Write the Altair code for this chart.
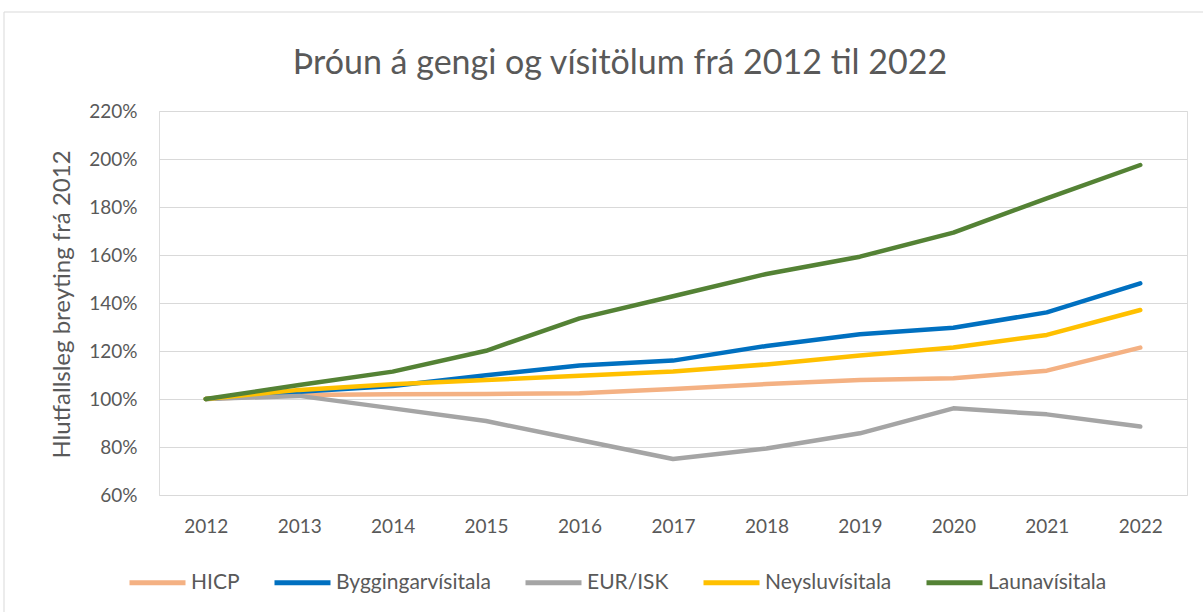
import altair as alt
import pandas as pd

years = ["2012", "2013", "2014", "2015", "2016", "2017", "2018", "2019", "2020", "2021", "2022"]
series_names = ["HICP", "Byggingarvísitala", "EUR/ISK", "Neysluvísitala", "Launavísitala"]
series_colors = ["#F4B183", "#0070C0", "#A5A5A5", "#FFC000", "#548235"]

hicp = [100, 101.7, 102.0, 102.1, 102.4, 104.2, 106.2, 107.9, 108.6, 111.8, 121.4]
bygg = [100, 103.0, 105.4, 109.9, 114.0, 116.0, 122.1, 127.0, 129.7, 136.1, 148.2]
eur_isk = [100, 101.3, 96.1, 90.8, 82.9, 75.0, 79.4, 85.7, 96.1, 93.6, 88.5]
neys = [100, 103.8, 106.1, 107.9, 109.7, 111.5, 114.4, 118.1, 121.5, 126.7, 137.1]
laun = [100, 105.8, 111.4, 120.1, 133.6, 142.8, 152.1, 159.3, 169.3, 183.6, 197.5]

y_ticks = [0.6, 0.8, 1.0, 1.2, 1.4, 1.6, 1.8, 2.0, 2.2]

rows = []
for name, vals in zip(series_names, [hicp, bygg, eur_isk, neys, laun]):
    for yr, v in zip(years, vals):
        rows.append({"year": yr, "series": name, "value": v / 100.0})
df = pd.DataFrame(rows)

FONT = "Lato"
TXT = "#595959"

lines = alt.Chart(df).mark_line(strokeWidth=4.5, strokeCap="round", strokeJoin="round").encode(
    x=alt.X("year:O", sort=years,
            scale=alt.Scale(type="point", padding=0.5),
            axis=alt.Axis(title=None, labelAngle=0, ticks=False, domain=False, grid=False,
                          labelPadding=22, labelFontSize=19, labelColor=TXT, labelFont=FONT)),
    y=alt.Y("value:Q",
            scale=alt.Scale(domain=[0.6, 2.2], nice=False, zero=False),
            axis=alt.Axis(values=y_ticks, format=".0%", ticks=False, domain=False,
                          grid=True, gridColor="#D9D9D9", gridWidth=1,
                          labelPadding=22, labelFontSize=19, labelColor=TXT, labelFont=FONT,
                          title="Hlutfallsleg breyting frá 2012", titleFont=FONT,
                          titleFontSize=24, titleFontWeight="normal", titleColor=TXT,
                          titleX=-97, titleY=193, titleAngle=270,
                          titleAlign="center", titleBaseline="middle")),
    color=alt.Color("series:N", sort=series_names,
                    scale=alt.Scale(domain=series_names, range=series_colors),
                    legend=alt.Legend(title=None, orient="none", direction="horizontal",
                                      legendX=-32, legendY=441,
                                      symbolType="stroke", symbolSize=3136,
                                      symbolStrokeWidth=5, labelOffset=3,
                                      columnPadding=24, labelFont=FONT,
                                      labelFontSize=21, labelColor=TXT)),
)

border = alt.Chart(pd.DataFrame({"a": [0]})).mark_rect(
    filled=False, stroke="#D9D9D9", strokeWidth=1
).encode(
    x=alt.value(-155), x2=alt.value(1060),
    y=alt.value(-99), y2=alt.value(520),
)

chart = alt.layer(border, lines).properties(
    width=1028, height=384,
    title=alt.TitleParams("Þróun á gengi og vísitölum frá 2012 til 2022",
                          font=FONT, fontSize=34, fontWeight="normal", color=TXT,
                          anchor="middle", frame="group", baseline="alphabetic",
                          dx=-53, dy=96, offset=0),
    padding={"left": 159, "top": 111, "right": 16, "bottom": 117},
    autosize=alt.AutoSizeParams(type="none"),
).configure_view(strokeWidth=0).configure(background="white")

chart.save("out.html", embed_options={"renderer": "svg", "actions": False})
